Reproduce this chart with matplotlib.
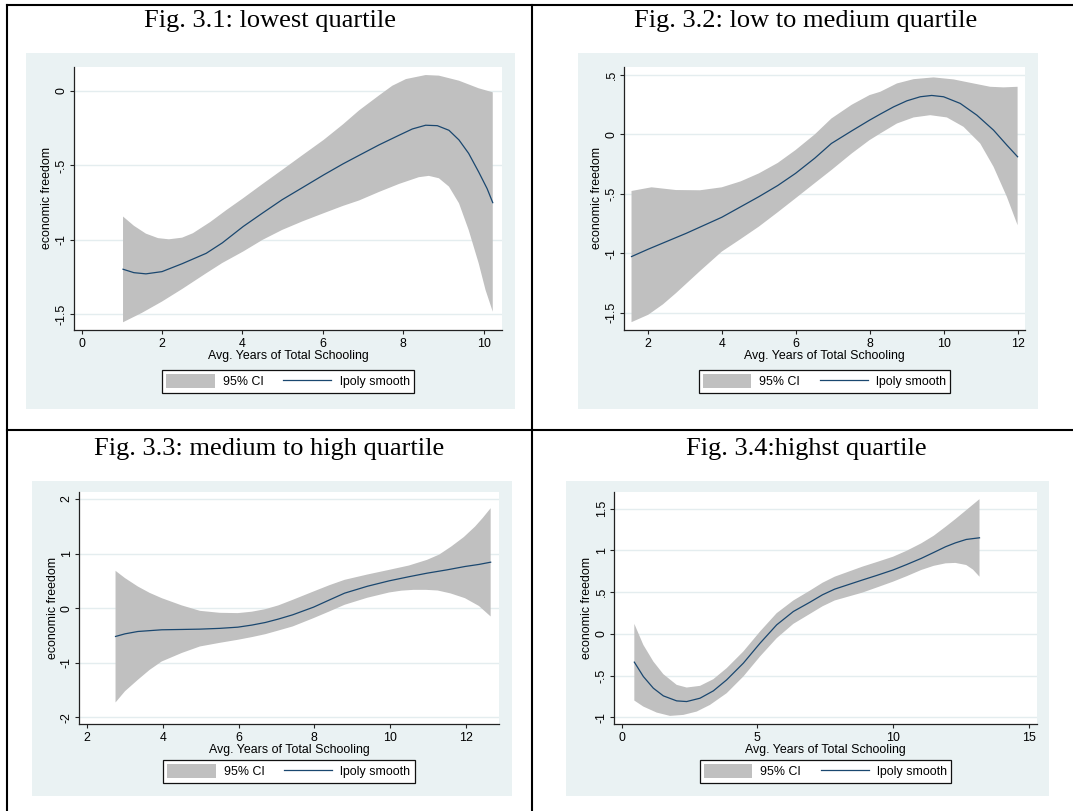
import numpy as np
import matplotlib
matplotlib.use("Agg")
import matplotlib.pyplot as plt
from matplotlib.patches import Rectangle, Patch
from matplotlib.lines import Line2D
from matplotlib.ticker import FuncFormatter, FixedLocator

# ---------------- data ----------------
titles = ["Fig. 3.1: lowest quartile", "Fig. 3.2: low to medium quartile",
          "Fig. 3.3: medium to high quartile", "Fig. 3.4:highst quartile"]
x_label = "Avg. Years of Total Schooling"
y_label = "economic freedom"
legend_labels = ["95% CI", "lpoly smooth"]

# Panel 1: lowest quartile
p1_x = [1.03, 1.3, 1.6, 2.0, 2.5, 3.1, 3.5, 4.02, 4.5, 4.99, 5.5, 6.02, 6.5, 6.906, 7.4, 7.9,
        8.23, 8.56, 8.85, 9.14, 9.39, 9.63, 9.88, 10.09, 10.23]
p1_y = [-1.197, -1.22, -1.228, -1.213, -1.16, -1.09, -1.02, -0.91, -0.82, -0.73, -0.648, -0.564,
        -0.49, -0.432, -0.362, -0.297, -0.255, -0.23, -0.233, -0.264, -0.329, -0.419, -0.544,
        -0.656, -0.75]
p1_up_x = [1.03, 1.3, 1.6, 1.9, 2.17, 2.5, 2.77, 3.2, 3.6, 4.02, 4.5, 4.99, 5.5, 6.02, 6.5,
           6.906, 7.4, 7.73, 8.07, 8.56, 8.89, 9.39, 9.88, 10.23]
p1_up_y = [-0.843, -0.905, -0.958, -0.988, -0.996, -0.985, -0.955, -0.88, -0.8, -0.72, -0.625,
           -0.53, -0.43, -0.329, -0.225, -0.13, -0.03, 0.035, 0.08, 0.107, 0.103, 0.069, 0.018,
           -0.009]
p1_lo_x = [1.03, 1.5, 2.0, 2.5, 3.1, 3.5, 4.02, 4.5, 4.99, 5.5, 6.02, 6.5, 6.906, 7.4, 7.9, 8.39,
           8.64, 8.89, 9.14, 9.39, 9.63, 9.88, 10.05, 10.23]
p1_lo_y = [-1.553, -1.49, -1.414, -1.33, -1.224, -1.155, -1.078, -1.0, -0.933, -0.875, -0.821,
           -0.772, -0.735, -0.678, -0.624, -0.579, -0.57, -0.586, -0.642, -0.754, -0.933, -1.157,
           -1.336, -1.482]

# Panel 2: low to medium quartile
p2_x = [1.55, 2.0, 3.03, 3.99, 4.99, 5.5, 5.98, 6.5, 6.95, 7.5, 7.98, 8.27, 8.63, 8.99, 9.35,
        9.66, 9.98, 10.43, 10.88, 11.33, 11.69, 11.98]
p2_y = [-1.028, -0.966, -0.832, -0.697, -0.524, -0.43, -0.328, -0.2, -0.076, 0.03, 0.12, 0.171,
        0.232, 0.283, 0.317, 0.328, 0.317, 0.261, 0.162, 0.036, -0.09, -0.188]
p2_up_x = [1.55, 2.09, 2.75, 3.4, 3.99, 4.5, 4.99, 5.5, 5.98, 6.5, 6.95, 7.5, 7.98, 8.27, 8.72,
           9.17, 9.71, 10.25, 10.79, 11.24, 11.6, 11.98]
p2_up_y = [-0.476, -0.445, -0.468, -0.47, -0.445, -0.395, -0.328, -0.24, -0.132, 0.0, 0.134, 0.25,
           0.331, 0.359, 0.429, 0.465, 0.48, 0.463, 0.429, 0.401, 0.396, 0.401]
p2_lo_x = [1.55, 2.0, 2.4, 2.75, 3.4, 3.99, 4.5, 4.99, 5.5, 5.98, 6.5, 6.95, 7.5, 7.98, 8.27, 8.72,
           9.17, 9.62, 10.07, 10.52, 10.97, 11.33, 11.69, 11.98]
p2_lo_y = [-1.58, -1.518, -1.43, -1.336, -1.15, -0.986, -0.88, -0.776, -0.655, -0.538, -0.41,
           -0.3, -0.16, -0.048, 0.008, 0.092, 0.143, 0.162, 0.143, 0.064, -0.076, -0.272, -0.525,
           -0.764]

# Panel 3: medium to high quartile
p3_x = [2.75, 3.0, 3.34, 3.97, 4.5, 4.98, 5.5, 5.98, 6.35, 6.71, 7.05, 7.43, 7.98, 8.4, 8.8, 9.4,
        9.98, 10.5, 10.98, 11.5, 11.98, 12.35, 12.66]
p3_y = [-0.518, -0.47, -0.427, -0.396, -0.39, -0.384, -0.37, -0.348, -0.31, -0.262, -0.2, -0.122,
        0.018, 0.15, 0.274, 0.4, 0.5, 0.575, 0.64, 0.7, 0.762, 0.8, 0.841]
p3_up_x = [2.75, 3.0, 3.34, 3.65, 3.97, 4.5, 4.98, 5.5, 5.98, 6.35, 6.71, 7.05, 7.43, 7.98, 8.4,
           8.8, 9.4, 9.98, 10.5, 10.98, 11.3, 11.62, 11.95, 12.25, 12.45, 12.66]
p3_up_y = [0.683, 0.55, 0.396, 0.28, 0.183, 0.05, -0.049, -0.085, -0.091, -0.065, -0.018, 0.05,
           0.152, 0.305, 0.42, 0.518, 0.615, 0.701, 0.78, 0.884, 0.98, 1.128, 1.3, 1.494, 1.65,
           1.829]
p3_lo_x = [2.75, 3.0, 3.34, 3.65, 3.97, 4.5, 4.98, 5.5, 5.98, 6.35, 6.71, 7.05, 7.43, 7.98, 8.4,
           8.8, 9.4, 9.98, 10.3, 10.62, 10.95, 11.26, 11.6, 11.98, 12.35, 12.66]
p3_lo_y = [-1.726, -1.52, -1.311, -1.13, -0.976, -0.82, -0.701, -0.635, -0.579, -0.53, -0.476,
           -0.41, -0.335, -0.183, -0.06, 0.061, 0.19, 0.287, 0.32, 0.335, 0.335, 0.323, 0.27,
           0.183, 0.04, -0.152]

# Panel 4: highest quartile
p4_x = [0.462, 0.794, 1.163, 1.532, 2.023, 2.392, 2.884, 3.376, 3.867, 4.482, 5.097, 5.711, 6.326,
        6.941, 7.4, 7.85, 8.87, 9.4, 10.0, 10.5, 11.04, 11.5, 11.94, 12.3, 12.7, 13.19]
p4_y = [-0.339, -0.511, -0.651, -0.743, -0.803, -0.811, -0.771, -0.683, -0.551, -0.351, -0.112,
        0.108, 0.268, 0.38, 0.468, 0.536, 0.645, 0.7, 0.765, 0.83, 0.904, 0.975, 1.044, 1.09,
        1.131, 1.151]
p4_up_x = [0.462, 0.794, 1.163, 1.532, 2.023, 2.392, 2.884, 3.376, 3.867, 4.482, 5.097, 5.711,
           6.326, 6.941, 7.4, 7.85, 8.87, 9.4, 10.0, 10.5, 11.04, 11.5, 11.94, 12.3, 12.7, 13.19]
p4_up_y = [0.12, -0.132, -0.331, -0.483, -0.611, -0.643, -0.623, -0.543, -0.411, -0.211, 0.028,
           0.248, 0.4, 0.519, 0.612, 0.685, 0.805, 0.86, 0.924, 0.995, 1.084, 1.175, 1.283, 1.375,
           1.482, 1.614]
p4_lo_x = [0.462, 0.794, 1.286, 1.778, 2.269, 2.761, 3.253, 3.867, 4.482, 5.097, 5.711, 6.326,
           6.941, 7.4, 7.85, 8.87, 9.4, 10.0, 10.5, 11.04, 11.5, 11.94, 12.3, 12.7, 12.95, 13.19]
p4_lo_y = [-0.799, -0.871, -0.943, -0.983, -0.971, -0.931, -0.851, -0.711, -0.511, -0.271,
           -0.052, 0.12, 0.24, 0.33, 0.4, 0.494, 0.555, 0.625, 0.69, 0.765, 0.815, 0.845, 0.85,
           0.825, 0.77, 0.685]

# tick values
p1_xticks = [0, 2, 4, 6, 8, 10]
p1_yticks = [0, -0.5, -1, -1.5]
p2_xticks = [2, 4, 6, 8, 10, 12]
p2_yticks = [0.5, 0, -0.5, -1, -1.5]
p3_xticks = [2, 4, 6, 8, 10, 12]
p3_yticks = [2, 1, 0, -1, -2]
p4_xticks = [0, 5, 10, 15]
p4_yticks = [1.5, 1, 0.5, 0, -0.5, -1]

# ---------------- layout / style ----------------
W, H = 1073, 811
fig = plt.figure(figsize=(W / 100, H / 100), dpi=100)
fig.patch.set_facecolor("white")

NAVY = "#1A476F"
CI_GRAY = "#C0C0C0"
REGION = "#EAF2F3"
GRID = "#E4EDEF"
SANS = ["Liberation Sans", "DejaVu Sans"]
SERIF = ["Liberation Serif", "DejaVu Serif"]
FS = 8.9


def fx(x):
    return x / W


def fy(y):
    return 1 - y / H


def stata_fmt(v, pos=None):
    s = "%g" % v
    if s.startswith("0."):
        s = s[1:]
    elif s.startswith("-0."):
        s = "-" + s[2:]
    return s


panels = [
    dict(title=titles[0], tx=269.5, tb=27.3,
         region=(25.8, 53.3, 514.8, 409), plot=(74, 66.7, 502, 330),
         xlim=(-0.19, 10.46), ylim=(-1.605, 0.163), leg_top=370,
         x=p1_x, y=p1_y, ux=p1_up_x, uy=p1_up_y, lx=p1_lo_x, ly=p1_lo_y,
         xt=p1_xticks, yt=p1_yticks),
    dict(title=titles[1], tx=806, tb=27.3,
         region=(578.4, 53.3, 1038, 409), plot=(624, 66.7, 1025, 330),
         xlim=(1.347, 12.18), ylim=(-1.646, 0.57), leg_top=370,
         x=p2_x, y=p2_y, ux=p2_up_x, uy=p2_up_y, lx=p2_lo_x, ly=p2_lo_y,
         xt=p2_xticks, yt=p2_yticks),
    dict(title=titles[2], tx=269.5, tb=455,
         region=(31.7, 481, 512, 795.7), plot=(79.2, 492.3, 498.6, 724),
         xlim=(1.79, 12.87), ylim=(-2.12, 2.12), leg_top=760,
         x=p3_x, y=p3_y, ux=p3_up_x, uy=p3_up_y, lx=p3_lo_x, ly=p3_lo_y,
         xt=p3_xticks, yt=p3_yticks),
    dict(title=titles[3], tx=806, tb=455,
         region=(566, 481, 1049, 795.7), plot=(614.1, 492.3, 1036.6, 724),
         xlim=(-0.284, 15.295), ylim=(-1.08, 1.696), leg_top=760,
         x=p4_x, y=p4_y, ux=p4_up_x, uy=p4_up_y, lx=p4_lo_x, ly=p4_lo_y,
         xt=p4_xticks, yt=p4_yticks),
]

# table lines
for (x0, y0, x1, y1) in [(7, 5, 1073, 5), (7, 5, 7, 811), (532, 5, 532, 811), (7, 430, 1073, 430)]:
    fig.add_artist(Line2D([fx(x0), fx(x1)], [fy(y0), fy(y1)], color="black", lw=1.5,
                          transform=fig.transFigure, solid_capstyle="projecting"))

for p in panels:
    # title
    fig.text(fx(p["tx"]), fy(p["tb"]), p["title"], ha="center", va="baseline",
             fontsize=19, family=SERIF, color="black")
    # graph region
    gx0, gy0, gx1, gy1 = p["region"]
    fig.add_artist(Rectangle((fx(gx0), fy(gy1)), (gx1 - gx0) / W, (gy1 - gy0) / H,
                             facecolor=REGION, edgecolor="none",
                             transform=fig.transFigure, zorder=0))
    # plot region
    px0, py0, px1, py1 = p["plot"]
    ax = fig.add_axes([fx(px0), fy(py1), (px1 - px0) / W, (py1 - py0) / H])
    ax.set_facecolor("white")
    ax.set_xlim(*p["xlim"])
    ax.set_ylim(*p["ylim"])

    poly_x = np.r_[p["ux"], p["lx"][::-1]]
    poly_y = np.r_[p["uy"], p["ly"][::-1]]
    ax.fill(poly_x, poly_y, facecolor=CI_GRAY, edgecolor="none", zorder=2)
    ax.plot(p["x"], p["y"], color=NAVY, lw=0.9, zorder=3, solid_joinstyle="round")

    ax.yaxis.set_major_locator(FixedLocator(p["yt"]))
    ax.xaxis.set_major_locator(FixedLocator(p["xt"]))
    ax.yaxis.set_major_formatter(FuncFormatter(stata_fmt))
    ax.xaxis.set_major_formatter(FuncFormatter(stata_fmt))
    ax.grid(axis="y", color=GRID, lw=1.0, zorder=1)
    ax.set_axisbelow(True)

    for s in ["top", "right"]:
        ax.spines[s].set_visible(False)
    for s in ["left", "bottom"]:
        ax.spines[s].set_color("#222222")
        ax.spines[s].set_linewidth(0.9)

    ax.tick_params(axis="both", direction="out", length=3.2, width=0.8, color="#222222",
                   labelsize=FS)
    ax.tick_params(axis="x", pad=2.6)
    ax.tick_params(axis="y", pad=1.5, labelrotation=90)
    for lab in ax.get_yticklabels():
        lab.set_va("center")
        lab.set_family(SANS)
    for lab in ax.get_xticklabels():
        lab.set_family(SANS)

    ax.set_xlabel(x_label, fontsize=FS, family=SANS, labelpad=0)
    ax.set_ylabel(y_label, fontsize=FS, family=SANS, labelpad=1.5)

    handles = [Patch(facecolor=CI_GRAY, edgecolor="none"),
               Line2D([], [], color=NAVY, lw=0.9)]
    leg = ax.legend(handles, legend_labels, loc="upper center",
                    bbox_to_anchor=(fx((px0 + px1) / 2), fy(p["leg_top"])),
                    bbox_transform=fig.transFigure, ncol=2, frameon=True,
                    fancybox=False, framealpha=1, edgecolor="#111111",
                    prop=dict(family=SANS, size=FS), borderpad=0.35,
                    handlelength=3.9, handleheight=1.3, handletextpad=0.65,
                    columnspacing=1.6, borderaxespad=0)
    leg.get_frame().set_linewidth(0.9)

fig.savefig("out.png", dpi=100)
